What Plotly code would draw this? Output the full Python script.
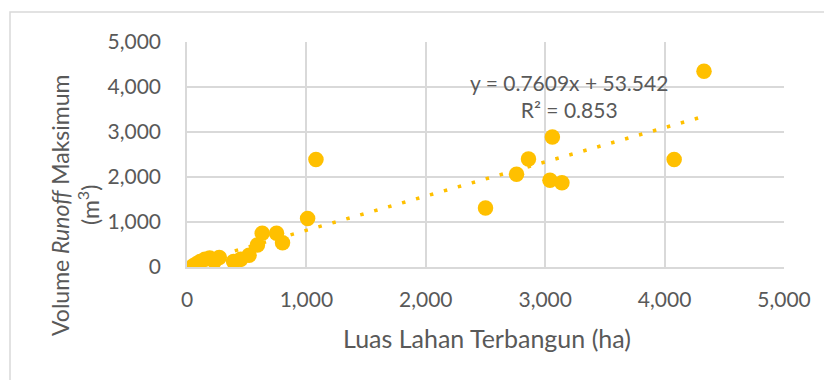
import plotly.graph_objects as go

# Data
luas_ha = [50, 80, 110, 150, 190, 230, 270, 390, 450, 520, 590, 630, 750, 800,
           1010, 1080, 2500, 2760, 2860, 3040, 3060, 3140, 4080, 4330]
runoff_m3 = [20, 70, 120, 170, 200, 130, 210, 120, 170, 260, 490, 750, 750, 540,
             1080, 2390, 1310, 2060, 2400, 1930, 2890, 1870, 2390, 4350]

slope = 0.7609
intercept = 53.542
r2 = 0.853

x_ticks = [0, 1000, 2000, 3000, 4000, 5000]
y_ticks = [0, 1000, 2000, 3000, 4000, 5000]

gold = "#FFC000"
txt = "#595959"
grid = "#D9D9D9"
font_family = "Lato, Open Sans, sans-serif"
fs = 21

x_min, x_max = min(luas_ha), max(luas_ha)
trend_x = [x_min, x_max]
trend_y = [slope * v + intercept for v in trend_x]

fig = go.Figure()
fig.add_trace(go.Scatter(x=trend_x, y=trend_y, mode="lines",
                         line=dict(color=gold, width=3.5, dash="3.5px,11px"),
                         hoverinfo="skip", showlegend=False))
fig.add_trace(go.Scatter(x=luas_ha, y=runoff_m3, mode="markers",
                         marker=dict(color=gold, size=15.5, line=dict(width=0)),
                         showlegend=False))

# page body adds an 8px offset; plot area targets 187..784 x 43..267 on screen
L, R, T, B = 179, 776, 34, 259
fig.update_layout(
    width=832, height=380,
    margin=dict(l=L, r=832 - R, t=T, b=380 - B),
    paper_bgcolor="white", plot_bgcolor="white",
    font=dict(family=font_family, color=txt, size=fs),
    xaxis=dict(range=[0, 5000], tickvals=x_ticks,
               ticktext=[f"{v:,}" for v in x_ticks],
               showgrid=True, gridcolor=grid, gridwidth=1.5,
               showline=True, linecolor=grid, linewidth=1.5,
               zeroline=False, ticks="", ticklabelstandoff=13,
               tickfont=dict(size=fs, color=txt)),
    yaxis=dict(range=[0, 5000], tickvals=y_ticks,
               ticktext=[f"{v:,}" for v in y_ticks],
               showgrid=True, gridcolor=grid, gridwidth=1.5,
               showline=True, linecolor=grid, linewidth=1.5,
               zeroline=False, ticks="", ticklabelstandoff=20,
               tickfont=dict(size=fs, color=txt)),
)

pw, ph = R - L, B - T

def px(xs):
    return (xs - 187) / pw

def py(ys):
    return (267 - ys) / ph

# outer chart frame
fig.add_shape(type="rect", xref="paper", yref="paper",
              x0=px(10), x1=px(850), y0=py(400), y1=py(12),
              line=dict(color=grid, width=1.5), fillcolor="rgba(0,0,0,0)",
              layer="below")

fig.add_annotation(xref="paper", yref="paper", x=px(487), y=py(338),
                   text="Luas Lahan Terbangun (ha)", showarrow=False,
                   font=dict(size=25, color=txt), xanchor="center", yanchor="middle")
fig.add_annotation(xref="paper", yref="paper", x=px(60), y=py(205),
                   text="Volume <i>Runoff</i> Maksimum",
                   textangle=-90, showarrow=False,
                   font=dict(size=23, color=txt), xanchor="center", yanchor="middle")
fig.add_annotation(xref="paper", yref="paper", x=px(88), y=py(205),
                   text="(m<sup>3</sup>)",
                   textangle=-90, showarrow=False,
                   font=dict(size=23, color=txt), xanchor="center", yanchor="middle")
fig.add_annotation(xref="paper", yref="paper", x=px(569), y=py(96),
                   text=f"y = {slope}x + {intercept}<br>R² = {r2}",
                   showarrow=False, align="center",
                   font=dict(size=fs, color=txt), xanchor="center", yanchor="middle")

fig.write_html("out.html")
